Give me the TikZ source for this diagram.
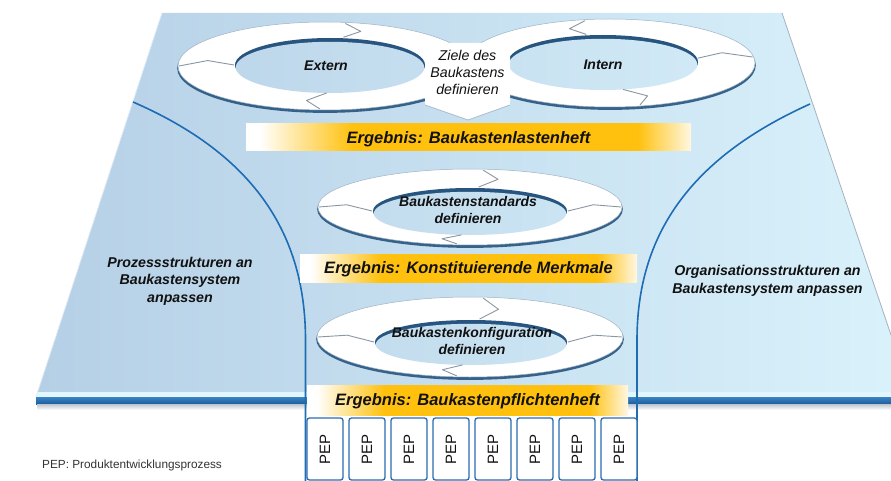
\documentclass[tikz,border=0pt]{standalone}
\usepackage{fontspec}
\setmainfont{Liberation Sans}
\usetikzlibrary{calc}

\definecolor{platL}{HTML}{B5CFE6}
\definecolor{platR}{HTML}{DAF2FB}
\definecolor{flowblue}{HTML}{1E6CB4}
\definecolor{rimblue}{HTML}{27557F}
\definecolor{bandtop}{HTML}{3A83C4}
\definecolor{bandbot}{HTML}{1B5B9A}
\definecolor{rimlight}{HTML}{E2F6FD}
\definecolor{shadowgrey}{HTML}{C3CAD2}
\definecolor{edgegrey}{HTML}{A4B2BE}
\definecolor{barorange}{HTML}{FFC10E}
\definecolor{barpale}{HTML}{FFF7E2}
\definecolor{sepgrey}{HTML}{8A97A3}
\definecolor{boxblue}{HTML}{2B6CB0}
\definecolor{inktext}{HTML}{111111}

% result bar: white lead-in, orange body, pale fade-out
\pgfdeclarehorizontalshading{resultbar}{100bp}{%
  color(0bp)=(white); color(26.5bp)=(white); color(37bp)=(barorange);
  color(69bp)=(barorange); color(75bp)=(barpale); color(100bp)=(barpale)}

% outer rim of a ring: dark lower rim plus white body
\newcommand\ringbase[4]{%
  \fill[rimblue, opacity=.9] ({#1},{#2+2.2}) ellipse [x radius=#3pt+.8pt, y radius=#4pt+.7pt];
  \fill[white] ({#1},{#2}) ellipse [x radius=#3pt, y radius=#4pt];
  \draw[rimblue!45, line width=.5pt] ({#1},{#2}) ellipse [x radius=#3pt, y radius=#4pt];
}
% hole of a ring: dark upper inner rim, platform colour inside
\newcommand\ringhole[4]{%
  \fill[rimblue] ({#1},{#2}) ellipse [x radius=#3pt, y radius=#4pt];
  \begin{scope}
    \clip ({#1},{#2+2.4}) ellipse [x radius=#3pt-.8pt, y radius=#4pt-1.4pt];
    \shade[platform] (36,13) rectangle (912,397);
  \end{scope}
}
% segment separators of a ring: outer centre/radii, inner centre/radii, list of angle/offset
\newcommand\ringseps[9]{%
  \foreach \t/\d in {#9}{
    \draw[sep] ({#1+(#3-1)*cos(\t)},{#2-(#4-1)*sin(\t)})
      -- ({(#1+#5)/2+(#3+#7)/2*cos(\t+\d)},{(#2+#6)/2-(#4+#8)/2*sin(\t+\d)})
      -- ({#5+(#7+1)*cos(\t)},{#6-(#8+1)*sin(\t)});
  }}

\tikzset{
  platform/.style={left color=platL, right color=platR},
  flowline/.style={draw=flowblue, line width=1.6pt},
  sep/.style={draw=sepgrey, line width=.9pt, line join=round},
  ringtext/.style={font=\fontsize{14}{16.5}\selectfont\bfseries\itshape, text=inktext, align=center, inner sep=0pt},
  sidetext/.style={font=\fontsize{14.2}{17.5}\selectfont\bfseries\itshape, text=inktext, align=center, inner sep=0pt},
  zieltext/.style={font=\fontsize{14.2}{17}\selectfont\itshape, text=inktext, align=center, inner sep=0pt},
  resultbox/.style={shade, shading=resultbar, inner sep=0pt, text=inktext,
    font=\fontsize{16.5}{19}\selectfont\bfseries\itshape, text height=11.8pt, text depth=0pt},
  pepbox/.style={draw=boxblue, line width=1.3pt, rounded corners=2.5pt, fill=white, rotate=90,
    minimum width=62pt, minimum height=36pt, inner sep=0pt, text=inktext,
    font=\fontsize{15}{18}\selectfont},
  note/.style={font=\fontsize{11.8}{14}\selectfont, text=black!80, inner sep=0pt, anchor=west}
}

\begin{document}
\begin{tikzpicture}[x=1pt, y=-1pt]
\useasboundingbox (0,0) rectangle (891,481);
\clip (0,0) rectangle (891,481);

% platform
\shade[platform] (162,13) -- (782,13) -- (912,397) -- (36,397) -- cycle;
\draw[edgegrey, line width=.8pt] (782,13) -- (912,397);
\draw[white!55!platL, line width=.8pt] (162,13) -- (36,397);
\fill[rimlight] (37.7,392) -- (912,392) -- (912,397) -- (36,397) -- cycle;
\shade[top color=bandtop, bottom color=bandbot] (36,397) rectangle (912,404.5);
\shade[top color=shadowgrey, bottom color=white] (37,404.5) rectangle (912,410);

% boundaries between process and organisation areas
\draw[flowline] (133,102) .. controls (255,155) and (305.5,235) .. (305.5,340) -- (305.5,481);
\draw[flowline] (810,104) .. controls (690,158) and (637,235) .. (637,340) -- (637,481);

% twin ring: Extern / Intern
\ringbase{325}{66}{147}{44}
\ringbase{610}{63}{145}{44}
\ringhole{330}{65}{95}{27}
\ringhole{603}{62}{95}{27}
\ringseps{325}{66}{147}{44}{330}{65}{95}{27}{180/-8, 82/-8, 268/-8}
\ringseps{610}{63}{145}{44}{603}{62}{95}{27}{100/8, 8/8, 282/8}

% ring: standards
\ringbase{470}{207}{152}{38}
\ringhole{470}{211}{97}{23}
\ringseps{470}{207}{152}{38}{470}{211}{97}{23}{180/-8, 85/-8, 0/8, 265/-8}

% ring: configuration
\ringbase{470}{337}{153}{40}
\ringhole{471}{342}{96}{22}
\ringseps{470}{337}{153}{40}{471}{342}{96}{22}{180/-8, 85/-8, 0/8, 265/-8}

% goal tag between the twin rings
\fill[white] (425,43) -- (510,43) -- (510,105) -- (468,120) -- (425,105) -- cycle;
\draw[rimblue!40, line width=.8pt, line join=round] (425,105) -- (468,120) -- (510,105);
\node[zieltext] (ziele) at (467.5,72) {Ziele des\\Baukastens\\definieren};

\node[ringtext] (extern) at (326,66) {Extern};
\node[ringtext] (intern) at (603,65) {Intern};
\node[ringtext] (standards) at (468,210) {Baukastenstandards\\definieren};
\node[ringtext] (konfig) at (472,341) {Baukastenkonfiguration\\definieren};

% results
\node[resultbox, minimum width=445pt, minimum height=27pt] (res1) at (468.5,137.5) {Ergebnis: Baukastenlastenheft};
\node[resultbox, minimum width=337pt, minimum height=28pt] (res2) at (468.5,268) {Ergebnis: Konstituierende Merkmale};
\node[resultbox, minimum width=321pt, minimum height=30pt] (res3) at (467.5,400) {Ergebnis: Baukastenpflichtenheft};

% side areas
\node[sidetext] (prozess) at (180,281) {Prozessstrukturen an\\Baukastensystem\\anpassen};
\node[sidetext] (organisation) at (767.5,281) {Organisationsstrukturen an\\Baukastensystem anpassen};

% product development processes
\foreach \i in {1,...,8}
  \node[pepbox] (pep\i) at ({325+42*(\i-1)},449) {PEP};

\node[note] (legend) at (42,465) {PEP: Produktentwicklungsprozess};
\end{tikzpicture}
\end{document}
